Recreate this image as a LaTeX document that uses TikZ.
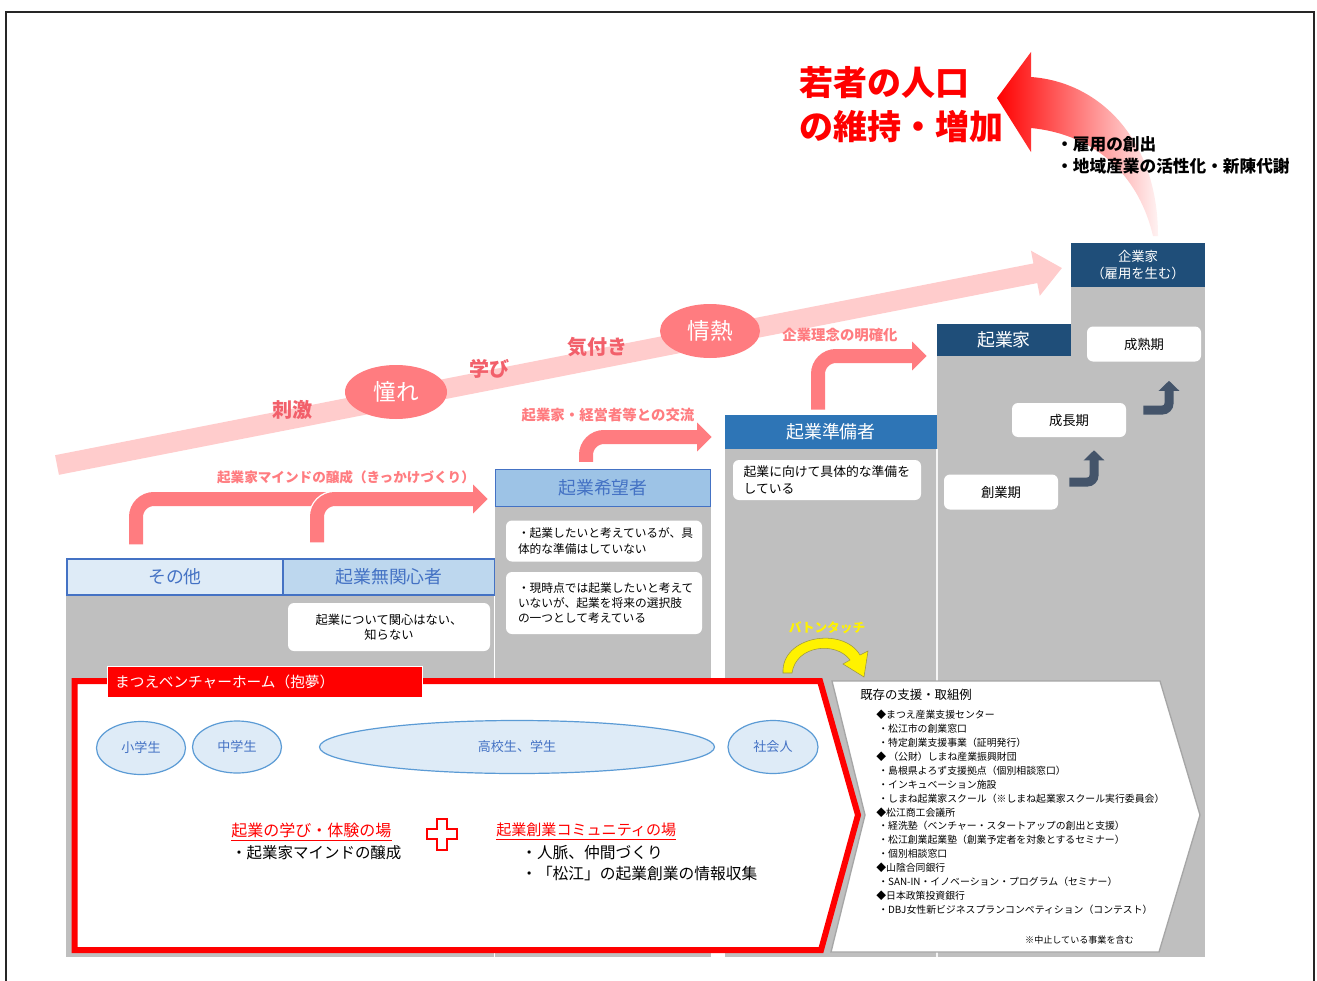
\documentclass[tikz,border=0pt]{standalone}
\usepackage{fontspec}
\setmainfont{Noto Sans CJK JP}
\usetikzlibrary{arrows.meta,shapes.geometric,calc}
\definecolor{gbg}{HTML}{BFBFBF}
\definecolor{blueL}{HTML}{DEEBF7}
\definecolor{blueM}{HTML}{BDD7EE}
\definecolor{blueH}{HTML}{9DC3E6}
\definecolor{blueB}{HTML}{4472C4}
\definecolor{blueP}{HTML}{2E75B6}
\definecolor{navy}{HTML}{1F4E79}
\definecolor{salmon}{HTML}{FF7C80}
\definecolor{bandpink}{HTML}{FFCCCC}
\definecolor{lblred}{HTML}{F2606B}
\definecolor{arrnavy}{HTML}{44546A}
\definecolor{ellB}{HTML}{5B9BD5}
\definecolor{chevgrey}{HTML}{A6A6A6}
\newcommand{\myfs}[2]{\fontsize{#1}{#2}\selectfont}
\tikzset{
  sz/.style 2 args={minimum width=#1*0.75pt, minimum height=#2*0.75pt},
  hdr/.style={draw=blueB, line width=1.1pt, text=blueB, font=\myfs{13.4}{16}, inner sep=0pt},
  hdrdark/.style={text=white, font=\myfs{13.4}{16}, inner sep=0pt},
  wbox/.style={fill=white, rounded corners=4.5pt, inner sep=0pt},
  plabel/.style={text=salmon, font=\bfseries\myfs{10.8}{13}},
  bandlabel/.style={text=lblred, font=\bfseries\myfs{15}{18}},
  bandell/.style={ellipse, fill=salmon, text=white, font=\myfs{17}{20}, inner sep=0pt},
  pinkarr/.style={draw=salmon, line width=10.5pt, rounded corners=13.5pt},
  pinkhead/.style={-{Triangle[length=11pt,width=21pt]}},
  navyarr/.style={draw=arrnavy, line width=6.75pt, rounded corners=5pt, -{Triangle[length=7.5pt,width=15pt]}},
  ell/.style={ellipse, draw=ellB, line width=0.9pt, fill=blueL, text=blueB, font=\myfs{9.8}{12}, inner sep=0pt},
  bodytxt/.style={font=\myfs{12}{14}, inner sep=0pt, anchor=west}
}
\begin{document}
\begin{tikzpicture}[x=0.75pt,y=-0.75pt]
\useasboundingbox (0,0) rectangle (1317,981);
\fill[white] (0,0) rectangle (1317,981);
\draw[black!85, line width=2.2pt] (6,981) -- (6,12) -- (1314,12) -- (1314,981);

% grey column backgrounds
\fill[gbg] (66,595) rectangle (494,957);
\fill[gbg] (495,506) rectangle (711,957);
\fill[gbg] (725,449) rectangle (937,957);
\fill[gbg] (937,356) rectangle (1071,957);
\fill[gbg] (1071,287) rectangle (1205,957);
\draw[white!85!gbg, line width=0.8pt] (937,449) -- (937,957);

% band arrow
\begin{scope}[shift={(57,465)}, rotate=11.09]
\fill[bandpink] (0,-10) -- (997,-10) -- (997,-23) -- (1024,0) -- (997,23) -- (997,10) -- (0,10) -- cycle;
\end{scope}
\node[bandell, sz={102}{54}] (akogare) at (396,392) {憧れ};
\node[bandell, sz={100}{54}] (jonetsu) at (710,331) {情熱};
\node[bandlabel] (shigeki) at (292,410) {刺激};
\node[bandlabel] (manabi2) at (489,369) {学び};
\node[bandlabel] (kizuki) at (597,347) {気付き};

% headers
\node[hdr, fill=blueL, sz={216}{36}] (sonota) at (175,577) {その他};
\node[hdr, fill=blueM, sz={211}{36}] (mukan) at (389,577) {起業無関心者};
\node[hdr, fill=blueH, sz={215}{37}] (kibou) at (603,488) {起業希望者};
\node[hdrdark, fill=blueP, sz={212}{34}] (junbi) at (831,432) {起業準備者};
\node[hdrdark, fill=navy, sz={134}{32}] (kigyoka) at (1004,340) {起業家};
\node[hdrdark, fill=navy, sz={134}{44}, align=center, font=\myfs{10}{12.6}] (kigyoka2) at (1138,265) {企業家\\（雇用を生む）};

% white description boxes
\node[wbox, sz={202}{48}, align=center, font=\myfs{9.2}{11.3}] (wb1) at (389,627) {起業について関心はない、\\知らない};
\node[wbox, sz={196}{41}, inner xsep=9pt, text width=129pt, align=left, font=\myfs{8.8}{11.3}] (wb2) at (604,541) {・起業したいと考えているが、具\\体的な準備はしていない};
\node[wbox, sz={196}{62}, inner xsep=9pt, text width=129pt, align=left, font=\myfs{8.8}{11.3}] (wb3) at (604,603) {・現時点では起業したいと考えて\\いないが、起業を将来の選択肢\\の一つとして考えている};
\node[wbox, sz={188}{40}, inner xsep=8pt, text width=125pt, align=left, font=\myfs{9.6}{12.5}] (wb4) at (827,480) {起業に向けて具体的な準備を\\している};
\node[wbox, sz={114}{35}, font=\myfs{10}{12}] (sogyo) at (1001,492) {創業期};
\node[wbox, sz={114}{34}, font=\myfs{10}{12}] (seicho) at (1069,420) {成長期};
\node[wbox, sz={114}{35}, font=\myfs{10}{12}] (seijuku) at (1144,344) {成熟期};

% navy step arrows
\draw[navyarr] ($(sogyo.east)+(11,-10)$) -| ($(seicho.south)+(25,13)$);
\draw[navyarr] ($(seicho.east)+(17,-10)$) -| ($(seijuku.south)+(25,19)$);

% pink bent arrows
\draw[pinkarr] ($(sonota.north)+(-39,-14)$) |- ($(kibou.west)+(-24,11)$);
\draw[white, line width=12.5pt, rounded corners=13.5pt] ($(mukan.north)+(-72,-16)$) |- ($(kibou.west)+(-24,11)$);
\draw[pinkarr, pinkhead] ($(mukan.north)+(-72,-16)$) |- ($(kibou.west)+(-7,11)$);
\node[plabel, font=\bfseries\myfs{10.2}{13}] (lbl1) at (346,477) {起業家マインドの醸成（きっかけづくり）};
\draw[pinkarr, pinkhead] ($(kibou.north)+(-17,-7)$) |- ($(junbi.west)+(-13,5)$);
\node[plabel] (lbl2) at (608,415) {起業家・経営者等との交流};
\draw[pinkarr, pinkhead] ($(junbi.north)+(-13,-5)$) |- ($(kigyoka.west)+(-10,16)$);
\node[plabel] (lbl3) at (840,335) {企業理念の明確化};

% big red curved arrow
\shade[left color=red, middle color=red!55, right color=red!5] (997,98) -- (1031,52) -- (1031,77) .. controls (1100,82) and (1158,140) .. (1158,236) -- (1153,236) .. controls (1140,180) and (1100,135) .. (1031,128) -- (1031,152) -- cycle;
\node[anchor=west, text=red, align=left, font=\bfseries\myfs{25.5}{33}, inner sep=0pt] (title) at (799,105) {若者の人口\\の維持・増加};
\node[anchor=west, align=left, font=\bfseries\myfs{12.5}{16.5}, inner sep=0pt] (effects) at (1056,155) {・雇用の創出\\・地域産業の活性化・新陳代謝};

% baton touch
\node[text=yellow, font=\bfseries\myfs{9.5}{11}] (baton) at (827,628) {バトンタッチ};
\filldraw[fill=yellow, draw=yellow!55!black, line width=0.4pt] (783,673) .. controls (781,636) and (843,626) .. (860,655) -- (868,651) -- (864,677) -- (843,664) -- (850,660) .. controls (836,641) and (796,645) .. (792,673) -- cycle;

% red program box
\filldraw[fill=white, draw=red, line width=4.5pt, line join=miter] (74.5,681) -- (820,681) -- (858,815) -- (821,950) -- (74.5,950) -- cycle;
\node[fill=red, draw=white, line width=0.6pt, sz={315}{31}, inner xsep=6pt, text width=224pt, align=left, text=white, font=\myfs{11}{13}] (tab) at (264.5,681.5) {まつえベンチャーホーム（抱夢）};

\node[ell, sz={89}{53}] (sho) at (141,748) {小学生};
\node[ell, sz={89}{52}] (chu) at (237,747) {中学生};
\node[ell, sz={395}{53}] (koko) at (517,747) {高校生、学生};
\node[ell, sz={90}{53}] (shakai) at (773,747) {社会人};

\node[bodytxt, text=red] (place1) at (231,830) {起業の学び・体験の場};
\draw[red, line width=0.7pt] ([yshift=-2pt]place1.south west) -- ([yshift=-2pt]place1.south east);
\node[bodytxt, font=\myfs{11.6}{14}] (place1a) at (231,853) {・起業家マインドの醸成};
\draw[red, line width=1.1pt, fill=white] (437,819) -- (447,819) -- (447,829) -- (457,829) -- (457,839) -- (447,839) -- (447,850) -- (437,850) -- (437,839) -- (427,839) -- (427,829) -- (437,829) -- cycle;
\node[bodytxt, text=red, font=\myfs{11.3}{14}] (place2) at (496,830) {起業創業コミュニティの場};
\draw[red, line width=0.7pt] ([yshift=-2pt]place2.south west) -- ([yshift=-2pt]place2.south east);
\node[bodytxt, font=\myfs{11.8}{14}] (place2a) at (521,853) {・人脈、仲間づくり};
\node[bodytxt, font=\myfs{11.8}{14}] (place2b) at (521,874) {・「松江」の起業創業の情報収集};

% chevron of existing support
\filldraw[fill=white, draw=chevgrey, line width=1pt] (832,681) -- (1160,681) -- (1200,815) -- (1159,952) -- (831,952) -- (865,815) -- cycle;
\node[anchor=west, inner sep=0pt, font=\myfs{9.3}{11}] (exist) at (860,695) {既存の支援・取組例};
\node[anchor=north west, align=left, inner sep=0pt, font=\myfs{7.4}{10.42}] (list) at (876,710) {◆まつえ産業支援センター\\
\hspace*{1.5pt}・松江市の創業窓口\\
\hspace*{1.5pt}・特定創業支援事業（証明発行）\\
◆ （公財）しまね産業振興財団\\
\hspace*{1.5pt}・島根県よろず支援拠点（個別相談窓口）\\
\hspace*{1.5pt}・インキュベーション施設\\
\hspace*{1.5pt}・しまね起業家スクール（※しまね起業家スクール実行委員会）\\
◆松江商工会議所\\
\hspace*{1.5pt}・経洗塾（ベンチャー・スタートアップの創出と支援）\\
\hspace*{1.5pt}・松江創業起業塾（創業予定者を対象とするセミナー）\\
\hspace*{1.5pt}・個別相談窓口\\
◆山陰合同銀行\\
\hspace*{1.5pt}・SAN-IN・イノベーション・プログラム（セミナー）\\
◆日本政策投資銀行\\
\hspace*{1.5pt}・DBJ女性新ビジネスプランコンペティション（コンテスト）};
\node[anchor=east, inner sep=0pt, font=\myfs{6.8}{8}] (note) at (1134,940) {※中止している事業を含む};
\end{tikzpicture}
\end{document}
